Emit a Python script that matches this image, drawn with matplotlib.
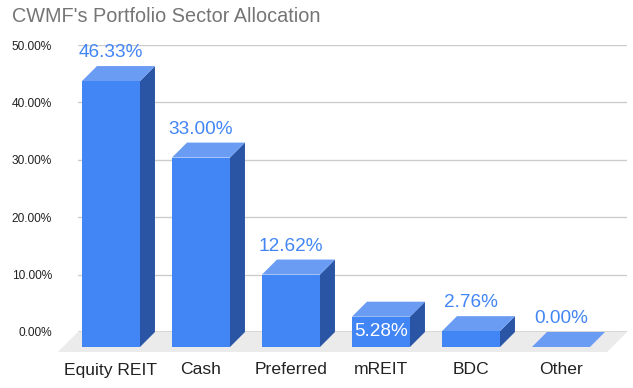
import matplotlib
matplotlib.use("Agg")
import matplotlib.pyplot as plt
from matplotlib.patches import Polygon

categories = ["Equity REIT", "Cash", "Preferred", "mREIT", "BDC", "Other"]
values = [46.33, 33.00, 12.62, 5.28, 2.76, 0.00]
value_labels = ["46.33%", "33.00%", "12.62%", "5.28%", "2.76%", "0.00%"]
inside_label = [False, False, False, True, False, False]
yticks = [0, 10, 20, 30, 40, 50]
title = "CWMF's Portfolio Sector Allocation"

plt.rcParams['font.family'] = ['Liberation Sans', 'DejaVu Sans']

W, H, DPI = 633, 388, 100
fig = plt.figure(figsize=(W / DPI, H / DPI), dpi=DPI)
fig.patch.set_facecolor('white')

ax_l, ax_r, ax_t, ax_b = 78, 627, 45, 332
ax = fig.add_axes([ax_l / W, (H - ax_b) / H, (ax_r - ax_l) / W, (ax_b - ax_t) / H])
xmin, xmax = -0.533, 5.567
ax.set_xlim(xmin, xmax)
ax.set_ylim(0, 50)
for s in ax.spines.values():
    s.set_visible(False)

# pixel->data conversions
px_x = (xmax - xmin) / (ax_r - ax_l)
px_y = 50.0 / (ax_b - ax_t)
DEPTH = 15
FLOOR = 20
dx, dy = DEPTH * px_x, DEPTH * px_y
fdx, fdy = FLOOR * px_x, FLOOR * px_y

ax.set_yticks(yticks)
ax.set_yticklabels([f"{t:.2f}%" for t in yticks])
ax.tick_params(axis='y', length=0, pad=26 * 72 / DPI, labelsize=8.6, labelcolor='#222222')
ax.set_xticks([])
for t in yticks[1:]:
    ax.axhline(t, color='#cccccc', lw=1.0, zorder=1)
ax.axhline(0, color='#333333', lw=1.0, zorder=2)

# floor
floor = Polygon([(xmin, 0), (xmax, 0), (xmax - fdx, -fdy), (xmin - fdx, -fdy)],
                closed=True, facecolor='#ebebeb', edgecolor='none', zorder=0.5,
                clip_on=False)
ax.add_patch(floor)

bw = 58 * px_x
front_c = '#4285f4'
top_c = '#6a9cf4'
side_c = '#2a55a4'
for i, v in enumerate(values):
    x0, x1 = i - bw / 2, i + bw / 2
    side = Polygon([(x1 - dx, -dy), (x1 - dx, v - dy), (x1, v), (x1, 0)],
                   closed=True, facecolor=side_c, edgecolor='none', zorder=3, clip_on=False)
    top = Polygon([(x0 - dx, v - dy), (x1 - dx, v - dy), (x1, v), (x0, v)],
                  closed=True, facecolor=top_c, edgecolor='none', zorder=3, clip_on=False)
    front = Polygon([(x0 - dx, -dy), (x1 - dx, -dy), (x1 - dx, v - dy), (x0 - dx, v - dy)],
                    closed=True, facecolor=front_c, edgecolor='none', zorder=4, clip_on=False)
    ax.add_patch(side)
    ax.add_patch(top)
    ax.add_patch(front)
    if inside_label[i]:
        ax.annotate(value_labels[i], (i, v / 2), xytext=(-DEPTH, -DEPTH),
                    textcoords='offset pixels', ha='center', va='center',
                    fontsize=13.7, color='white', zorder=6, annotation_clip=False)
    else:
        ax.annotate(value_labels[i], (i, v), xytext=(-DEPTH, 9),
                    textcoords='offset pixels', ha='center', va='baseline',
                    fontsize=13.7, color=front_c, zorder=6, annotation_clip=False)
    ax.annotate(categories[i], (i, 0), xytext=(-DEPTH, -38),
                textcoords='offset pixels', ha='center', va='center',
                fontsize=12.6, color='#222222', annotation_clip=False)

fig.text(12 / W, (H - 22) / H, title, fontsize=14.3, color='#757575',
         ha='left', va='baseline')

fig.savefig('out.png', dpi=DPI, facecolor='white')
